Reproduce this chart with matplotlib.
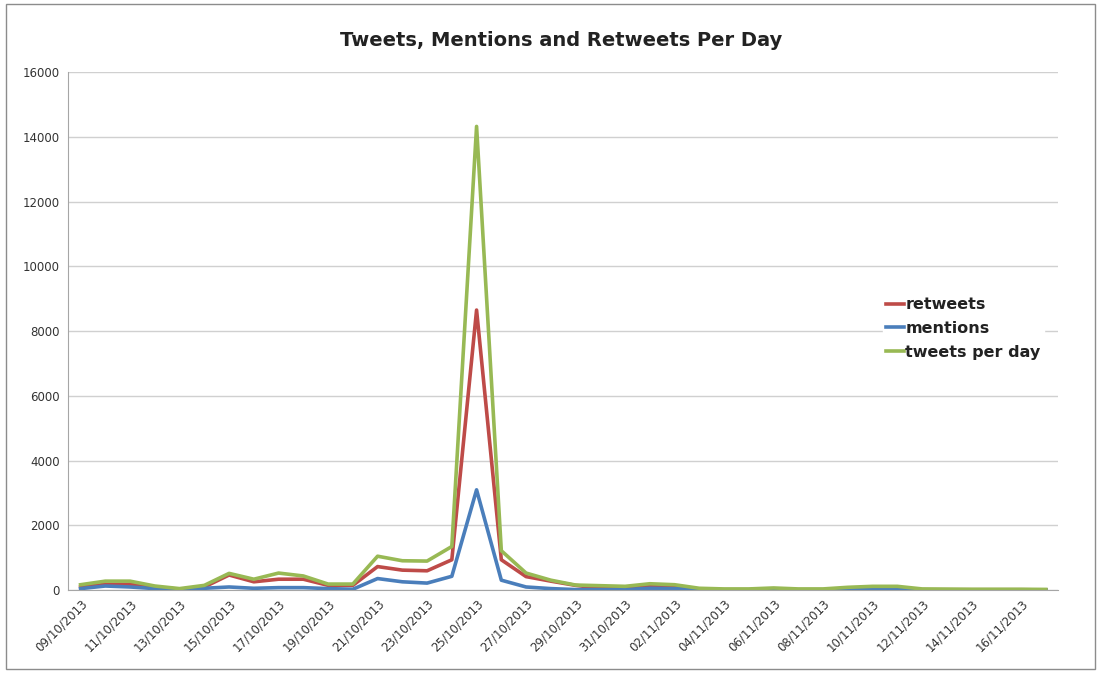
import numpy as np
import pandas as pd
import matplotlib
matplotlib.use("Agg")
import matplotlib.pyplot as plt
from matplotlib.patches import Rectangle

# daily counts, 09/10/2013 .. 17/11/2013
days = pd.date_range("2013-10-09", "2013-11-17", freq="D")

retweets = [100, 180, 180, 100, 30, 100, 470, 260, 340, 340,
            150, 150, 730, 620, 600, 940, 8650, 940, 420, 280,
            150, 60, 50, 120, 100, 20, 15, 15, 40, 15,
            15, 50, 70, 70, 15, 15, 15, 15, 15, 10]
mentions = [50, 130, 100, 50, 20, 60, 100, 60, 80, 80,
            50, 30, 360, 260, 220, 430, 3100, 310, 100, 50,
            20, 20, 20, 60, 50, 10, 5, 5, 10, 5,
            5, 10, 20, 20, 5, 5, 5, 5, 5, 5]
tweets_per_day = [170, 280, 280, 130, 50, 150, 520, 340, 530, 440,
                  190, 190, 1050, 910, 900, 1350, 14320, 1220, 530, 310,
                  160, 140, 120, 200, 170, 60, 40, 40, 70, 40,
                  40, 90, 120, 120, 40, 35, 30, 30, 30, 25]

series = [("retweets", retweets, "#BE4B48"),
          ("mentions", mentions, "#4A7EBB"),
          ("tweets per day", tweets_per_day, "#98B954")]

fig = plt.figure(figsize=(11, 6.73), dpi=100)
fig.patches.append(Rectangle((0.005, 0.006), 0.99, 0.988, transform=fig.transFigure,
                             fill=False, edgecolor="#8c8c8c", linewidth=1))
ax = fig.add_axes([0.062, 0.123, 0.900, 0.770])

x = np.arange(len(days))
for name, vals, col in series:
    ax.plot(x, vals, color=col, linewidth=2.6, label=name, solid_joinstyle="round")

ax.set_xlim(-0.5, len(days) - 0.5)
ax.set_ylim(0, 16000)
ax.set_yticks(np.arange(0, 16001, 2000))
ax.yaxis.grid(True, color="#d0d0d0", linewidth=1)
ax.set_axisbelow(True)

ticks = x[::2][:20]
ax.set_xticks(ticks)
ax.set_xticklabels([days[i].strftime("%d/%m/%Y") for i in ticks],
                   rotation=45, ha="right", rotation_mode="anchor", fontsize=8.5,
                   color="#333333")
ax.tick_params(axis="y", labelsize=8.5, colors="#333333", length=0, pad=6)
ax.tick_params(axis="x", length=0, pad=5)

for side in ("top", "right"):
    ax.spines[side].set_visible(False)
for side in ("left", "bottom"):
    ax.spines[side].set_color("#a6a6a6")

fig.text(0.51, 0.94, "Tweets, Mentions and Retweets Per Day", ha="center",
         va="center", fontsize=14, fontweight="bold", color="#222222")

leg = ax.legend(loc="center left", bbox_to_anchor=(0.818, 0.505), frameon=True,
                fontsize=11.5, handlelength=1.1, handletextpad=0.1,
                labelspacing=0.55, borderpad=0.2, borderaxespad=0.3)
leg.get_frame().set_edgecolor("white")
leg.get_frame().set_facecolor("white")
leg.get_frame().set_alpha(1)
for t in leg.get_texts():
    t.set_color("#222222")
    t.set_fontweight("semibold")

fig.savefig("out.png", dpi=100)
